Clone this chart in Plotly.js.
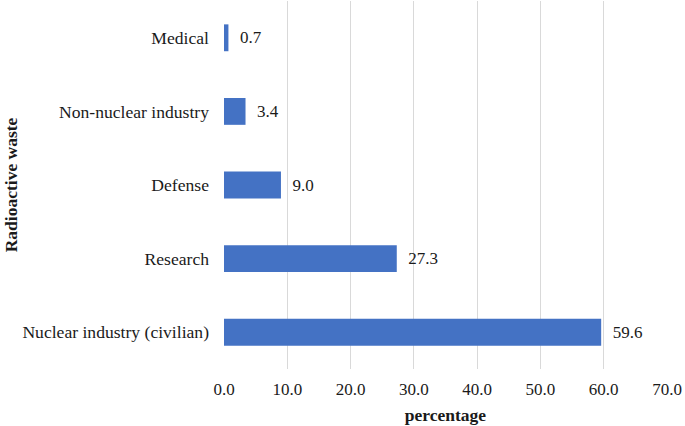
<!DOCTYPE html>
<html>
<head>
<meta charset="utf-8">
<script src="https://cdn.plot.ly/plotly-3.0.1.min.js"></script>
<style>html,body{margin:0;padding:0;background:#fff;}#chart{width:685px;height:426px;}</style>
</head>
<body>
<div id="chart"></div>
<script>
const categories = ["Nuclear industry (civilian)", "Research", "Defense", "Non-nuclear industry", "Medical"];
const values = [59.6, 27.3, 9.0, 3.4, 0.7];
const tickVals = [0, 10, 20, 30, 40, 50, 60, 70];
const tickText = tickVals.map(v => v.toFixed(1));

const FONT = "Liberation Serif";
const TXT = "#1a1a1a";
const trace = {
  type: "bar",
  orientation: "h",
  y: categories,
  x: values,
  text: values.map(v => "\u00a0\u00a0" + v.toFixed(1)),
  textposition: "outside",
  cliponaxis: false,
  textfont: {family: FONT, size: 17, color: TXT},
  marker: {color: "#4472C4"},
  hoverinfo: "none"
};
const layout = {
  width: 685, height: 426,
  margin: {l: 224, r: 18, t: 1, b: 57},
  paper_bgcolor: "#fff", plot_bgcolor: "#fff",
  bargap: 0.635,
  showlegend: false,
  font: {family: FONT, size: 17, color: TXT},
  xaxis: {
    range: [0, 70], tickvals: tickVals, ticktext: tickText,
    showgrid: true, gridcolor: "#d9d9d9", gridwidth: 1,
    zeroline: false, showline: false, ticks: "",
    ticklabelstandoff: 8,
    tickfont: {family: FONT, size: 17, color: TXT},
    title: {text: "<b>percentage</b>", font: {family: FONT, size: 17.5, color: TXT}, standoff: 10}
  },
  yaxis: {
    categoryorder: "array", categoryarray: categories,
    showgrid: false, zeroline: false, showline: false, ticks: "",
    ticklabelstandoff: 14,
    tickfont: {family: FONT, size: 17.6, color: TXT},
    title: {text: "<b>Radioactive waste</b>", font: {family: FONT, size: 17.5, color: TXT}, standoff: 0}
  }
};
Plotly.newPlot("chart", [trace], layout, {displayModeBar: false, staticPlot: true});
</script>
</body>
</html>
